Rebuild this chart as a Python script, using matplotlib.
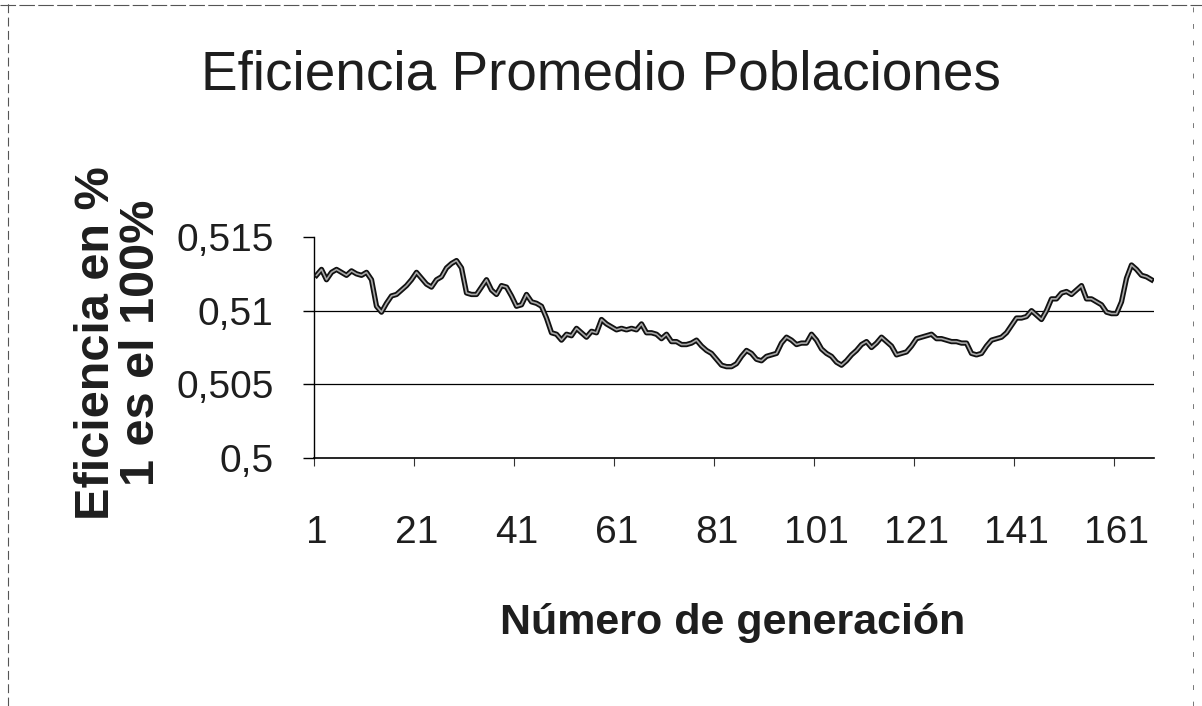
import numpy as np
import matplotlib
matplotlib.use("Agg")
import matplotlib.pyplot as plt
from matplotlib.lines import Line2D

plt.rcParams['font.family'] = ['Liberation Sans', 'DejaVu Sans']

# eficiencia promedio por generación
eficiencia = [
    0.5124, 0.5128, 0.5121, 0.5126, 0.5128, 0.5126, 0.5124, 0.5127, 0.5125, 0.5124,
    0.5126, 0.5121, 0.5103, 0.5099, 0.5105, 0.5110, 0.5111, 0.5114, 0.5117, 0.5121,
    0.5126, 0.5122, 0.5118, 0.5116, 0.5121, 0.5123, 0.5129, 0.5132, 0.5134, 0.5129,
    0.5112, 0.5111, 0.5111, 0.5116, 0.5121, 0.5114, 0.5111, 0.5117, 0.5116, 0.5110,
    0.5103, 0.5104, 0.5111, 0.5106, 0.5105, 0.5103, 0.5095, 0.5085, 0.5084, 0.5080,
    0.5084, 0.5083, 0.5088, 0.5085, 0.5082, 0.5086, 0.5085, 0.5094, 0.5091, 0.5089,
    0.5087, 0.5088, 0.5087, 0.5088, 0.5087, 0.5091, 0.5085, 0.5085, 0.5084, 0.5081,
    0.5084, 0.5079, 0.5079, 0.5077, 0.5077, 0.5078, 0.5080, 0.5076, 0.5073, 0.5071,
    0.5067, 0.5063, 0.5062, 0.5062, 0.5064, 0.5069, 0.5073, 0.5071, 0.5067, 0.5066,
    0.5069, 0.5070, 0.5071, 0.5078, 0.5082, 0.5080, 0.5077, 0.5078, 0.5078, 0.5084,
    0.5080, 0.5074, 0.5071, 0.5069, 0.5065, 0.5063, 0.5066, 0.5070, 0.5073, 0.5077,
    0.5079, 0.5075, 0.5078, 0.5082, 0.5079, 0.5076, 0.5070, 0.5071, 0.5072, 0.5076,
    0.5081, 0.5082, 0.5083, 0.5084, 0.5081, 0.5081, 0.5080, 0.5079, 0.5079, 0.5078,
    0.5078, 0.5071, 0.5070, 0.5071, 0.5076, 0.5080, 0.5081, 0.5082, 0.5085, 0.5090,
    0.5095, 0.5095, 0.5096, 0.5100, 0.5097, 0.5094, 0.5100, 0.5108, 0.5108, 0.5112,
    0.5113, 0.5111, 0.5114, 0.5117, 0.5108, 0.5108, 0.5106, 0.5104, 0.5099, 0.5098,
    0.5098, 0.5106, 0.5122, 0.5131, 0.5128, 0.5124, 0.5123, 0.5121,
]
etiquetas_x = [1, 21, 41, 61, 81, 101, 121, 141, 161]
valores_y = [0.5, 0.505, 0.51, 0.515]
etiquetas_y = ['0,5', '0,505', '0,51', '0,515']
lineas_guia = [0.505, 0.51]

generaciones = np.arange(1, len(eficiencia) + 1)
color_texto = '#1e1e1e'

fig = plt.figure(figsize=(12.02, 7.06), dpi=100)
ax = fig.add_axes([314 / 1202, 1 - 458 / 706, 840 / 1202, 221 / 706])

for v in lineas_guia:
    ax.axhline(v, color='black', lw=0.9, zorder=1)

# linea doble: borde oscuro con centro gris
ax.plot(generaciones, eficiencia, color='#111111', lw=3.8, zorder=3,
        solid_joinstyle='round')
ax.plot(generaciones, eficiencia, color='#a8a8a8', lw=1.2, zorder=4)

ax.set_xlim(0.5, len(eficiencia) + 0.5)
ax.set_ylim(0.5, 0.515)

ax.set_xticks(etiquetas_x)
ax.set_xticklabels([str(e) for e in etiquetas_x])
ax.set_xticks([e - 0.5 for e in etiquetas_x], minor=True)
ax.tick_params(axis='x', which='major', length=0, pad=41, labelsize=28,
               labelcolor=color_texto)
ax.tick_params(axis='x', which='minor', length=6, width=0.8, direction='out',
               color='#333333')

ax.set_yticks(valores_y)
ax.set_yticklabels(etiquetas_y)
ax.tick_params(axis='y', length=8, width=1, direction='out', pad=21,
               labelsize=28, labelcolor=color_texto)

for s in ['top', 'right']:
    ax.spines[s].set_visible(False)
ax.spines['left'].set_linewidth(1.0)
ax.spines['bottom'].set_linewidth(1.2)

fig.text(0.5, 1 - 75 / 706, 'Eficiencia Promedio Poblaciones', ha='center',
         va='center', fontsize=39.5, color=color_texto)
fig.text(733 / 1202, 1 - 623 / 706, 'Número de generación', ha='center',
         va='center', fontsize=31, fontweight='bold', color=color_texto)
fig.text(119 / 1202, 1 - 343 / 706, 'Eficiencia en %\n1 es el 100%',
         ha='center', va='center', rotation=90, fontsize=35,
         fontweight='bold', color=color_texto, linespacing=1.0)

# borde punteado del recorte
fig.add_artist(Line2D([8 / 1202, 8 / 1202], [0, 1], color='#555555', lw=0.8,
                      ls=(0, (8, 4))))
fig.add_artist(Line2D([0, 1], [1 - 5 / 706, 1 - 5 / 706], color='#555555',
                      lw=0.8, ls=(0, (14, 3))))
fig.add_artist(Line2D([1193 / 1202, 1193 / 1202], [0, 1], color='#777777',
                      lw=0.7, ls=(0, (5, 12))))

fig.savefig('out.png', dpi=100)
